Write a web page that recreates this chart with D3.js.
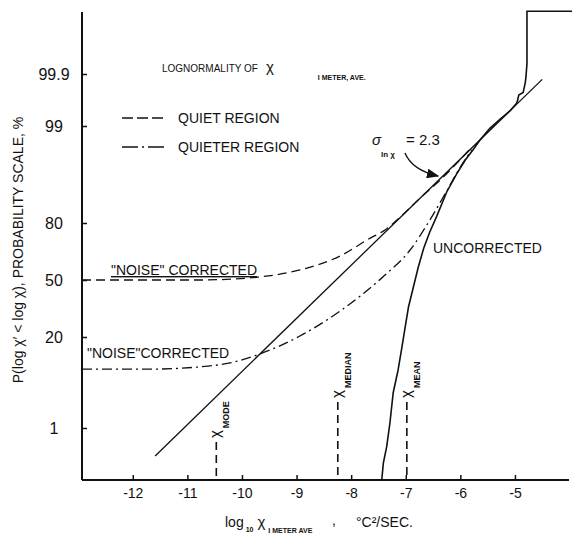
<!DOCTYPE html>
<html>
<head>
<meta charset="utf-8">
<script src="https://cdn.jsdelivr.net/npm/d3@7"></script>
<style>
body { margin: 0; background: #fff; }
svg { display: block; font-family: "Liberation Sans", Arial, sans-serif; }
text { fill: #111; }
</style>
</head>
<body>
<svg width="572" height="535"></svg>
<script>
// values: x = log10 chi, y = cumulative probability in %
var xTicks = [-12, -11, -10, -9, -8, -7, -6, -5];
var yTicks = [1, 20, 50, 80, 99, 99.9];

// lognormal fit (sigma ln chi = 2.3)
var fitX = [-11.59, -4.50];
var fitP = [0.27, 99.87];

// "noise" corrected, quiet region
var quietX = [-12.93, -11.68, -10.77, -10.16, -9.67, -8.94, -8.20, -7.65, -7.38, -7.10, -6.74, -6.37, -5.82];
var quietP = [50, 50, 50, 50.6, 51.8, 55.9, 63.9, 73.2, 77.0, 82.5, 88.9, 93.3, 97.6];

// "noise" corrected, quieter region
var quieterX = [-12.93, -11.68, -10.77, -10.22, -9.67, -8.94, -8.20, -7.42, -6.92, -6.56, -6.24, -6.01, -5.79];
var quieterP = [8.6, 8.6, 9.2, 10.3, 13.2, 20.4, 32.4, 51.8, 67.1, 81.2, 91.1, 95.4, 97.5];

// uncorrected
var uncorrX = [-7.44, -7.41, -7.35, -7.29, -7.23, -7.14, -7.07, -7.01, -6.95, -6.86, -6.77, -6.67, -6.56, -6.43,
               -6.25, -6.07, -5.91, -5.77, -5.64, -5.46, -5.27, -5.09, -4.97, -4.95, -4.93, -4.85, -4.81, -4.80,
               -4.78, -4.78, -3.95];
var uncorrP = [0.075, 0.19, 0.42, 1.24, 4.0, 8.4, 15.7, 24.4, 34.5, 45.9, 57.6, 68.2, 76.1, 82.9,
               90.6, 94.4, 96.45, 97.5, 98.26, 98.90, 99.24, 99.46, 99.61, 99.66, 99.73, 99.76, 99.85, 99.88,
               99.94, 99.997, 99.997];

// mode, median, mean markers
var statNames = ["MODE", "MEDIAN", "MEAN"];
var statX = [-10.47, -8.245, -6.98];
var statTopP = [0.53, 2.86, 2.86];

// inverse normal cdf (Acklam)
function probit(p) {
    var a = [-3.969683028665376e+01, 2.209460984245205e+02, -2.759285104469687e+02, 1.383577518672690e+02, -3.066479806614716e+01, 2.506628277459239e+00];
    var b = [-5.447609879822406e+01, 1.615858368580409e+02, -1.556989798598866e+02, 6.680131188771972e+01, -1.328068155288572e+01];
    var c = [-7.784894002430293e-03, -3.223964580411365e-01, -2.400758277161838e+00, -2.549732539343734e+00, 4.374664141464968e+00, 2.938163982698783e+00];
    var d = [7.784695709041462e-03, 3.224671290700398e-01, 2.445134137142996e+00, 3.754408661907416e+00];
    var pl = 0.02425, q, r;
    if (p < pl) {
        q = Math.sqrt(-2 * Math.log(p));
        return (((((c[0]*q+c[1])*q+c[2])*q+c[3])*q+c[4])*q+c[5]) / ((((d[0]*q+d[1])*q+d[2])*q+d[3])*q+1);
    } else if (p <= 1 - pl) {
        q = p - 0.5; r = q * q;
        return (((((a[0]*r+a[1])*r+a[2])*r+a[3])*r+a[4])*r+a[5])*q / (((((b[0]*r+b[1])*r+b[2])*r+b[3])*r+b[4])*r+1);
    } else {
        q = Math.sqrt(-2 * Math.log(1 - p));
        return -(((((c[0]*q+c[1])*q+c[2])*q+c[3])*q+c[4])*q+c[5]) / ((((d[0]*q+d[1])*q+d[2])*q+d[3])*q+1);
    }
}

var svg = d3.select("svg");
var margin = {left: 82, top: 11};
var width = 487, height = 469;
var ink = "#111";

var xs = d3.scaleLinear().domain([-12.93, -4.01]).range([0, width]);
// probability paper: the printed grid is not quite even, so map the tick deviates piecewise
var ys = d3.scaleLinear()
    .domain(yTicks.map(function(p) { return probit(p / 100); }))
    .range([417, 326, 269, 212, 115, 63]);
function yp(p) { return ys(probit(p / 100)); }

var g = svg.append("g")
    .attr("transform", "translate(" + margin.left + "," + margin.top + ")");

// axes
var xAxis = d3.axisBottom(xs).tickValues(xTicks).tickSize(-5).tickSizeOuter(0).tickPadding(8)
    .tickFormat(function(d) { return String(d).replace("\u2212", "-"); });
var gx = g.append("g").attr("transform", "translate(0," + height + ")").call(xAxis);
gx.select(".domain").remove();
gx.selectAll("line").attr("stroke", ink).attr("stroke-width", 1.5);
gx.selectAll("text").attr("font-size", 14).attr("fill", ink);

var yAxis = d3.axisLeft(ys)
    .tickValues(yTicks.map(function(p) { return probit(p / 100); }))
    .tickFormat(function(d, i) { return yTicks[i]; })
    .tickSize(-5).tickSizeOuter(0);
var gy = g.append("g").call(yAxis);
gy.select(".domain").remove();
gy.selectAll("line").attr("stroke", ink).attr("stroke-width", 1.5);
gy.selectAll("text").attr("font-size", 16).attr("fill", ink)
    .attr("text-anchor", "middle").attr("x", -28);

g.append("line").attr("x1", 0).attr("x2", 0).attr("y1", 1).attr("y2", height)
    .attr("stroke", ink).attr("stroke-width", 2);
g.append("line").attr("x1", 0).attr("x2", width).attr("y1", height).attr("y2", height)
    .attr("stroke", ink).attr("stroke-width", 2);

var line = d3.line()
    .x(function(d) { return xs(d[0]); })
    .y(function(d) { return yp(d[1]); });

g.append("path").datum(d3.zip(fitX, fitP)).attr("d", line)
    .attr("fill", "none").attr("stroke", ink).attr("stroke-width", 1.3);
g.append("path").datum(d3.zip(quietX, quietP)).attr("d", line.curve(d3.curveMonotoneX))
    .attr("fill", "none").attr("stroke", ink).attr("stroke-width", 1.3).attr("stroke-dasharray", "9,5");
g.append("path").datum(d3.zip(quieterX, quieterP)).attr("d", line.curve(d3.curveMonotoneX))
    .attr("fill", "none").attr("stroke", ink).attr("stroke-width", 1.3).attr("stroke-dasharray", "10,4,2,4");
g.append("path").datum(d3.zip(uncorrX, uncorrP)).attr("d", line.curve(d3.curveLinear))
    .attr("fill", "none").attr("stroke", ink).attr("stroke-width", 1.6);

// mode / median / mean
var stats = d3.zip(statNames, statX, statTopP);
g.selectAll(".stat").data(stats).enter().append("line")
    .attr("class", "stat")
    .attr("x1", function(d) { return xs(d[1]); })
    .attr("x2", function(d) { return xs(d[1]); })
    .attr("y1", function(d) { return yp(d[2]); })
    .attr("y2", height)
    .attr("stroke", ink).attr("stroke-width", 1.6).attr("stroke-dasharray", "8,5");
var st = g.selectAll(".statlab").data(stats).enter().append("text")
    .attr("class", "statlab")
    .attr("transform", function(d) {
        return "translate(" + (xs(d[1]) + 4) + "," + (yp(d[2]) - 4) + ") rotate(-90)";
    });
st.append("tspan").attr("font-size", 15).text("\u03c7");
st.append("tspan").attr("font-size", 9).attr("font-weight", "bold").attr("dx", 2).attr("dy", 9)
    .text(function(d) { return d[0]; });

// title and legend
var title = svg.append("text").attr("x", 162).attr("y", 72).attr("font-size", 10);
title.append("tspan").text("LOGNORMALITY OF");
title.append("tspan").attr("font-size", 15).attr("dx", 8).text("\u03c7");
title.append("tspan").attr("font-size", 7).attr("font-weight", "bold").attr("dx", 44).attr("dy", 8).text("I METER, AVE.");

svg.append("line").attr("x1", 122).attr("x2", 164).attr("y1", 118).attr("y2", 118)
    .attr("stroke", ink).attr("stroke-width", 1.3).attr("stroke-dasharray", "11,4");
svg.append("text").attr("x", 178).attr("y", 123).attr("font-size", 14).text("QUIET REGION");
svg.append("line").attr("x1", 122).attr("x2", 164).attr("y1", 147).attr("y2", 147)
    .attr("stroke", ink).attr("stroke-width", 1.3).attr("stroke-dasharray", "16,4,2,4");
svg.append("text").attr("x", 178).attr("y", 152).attr("font-size", 14).text("QUIETER REGION");

// curve labels
svg.append("text").attr("x", 111).attr("y", 275).attr("font-size", 14)
    .attr("text-decoration", "underline").text("\"NOISE\" CORRECTED");
svg.append("text").attr("x", 87).attr("y", 358).attr("font-size", 14).text("\"NOISE\"CORRECTED");
svg.append("text").attr("x", 433).attr("y", 253).attr("font-size", 14).text("UNCORRECTED");

// sigma annotation with arrow
svg.append("defs").append("marker")
    .attr("id", "head").attr("viewBox", "0 0 10 8").attr("refX", 9).attr("refY", 4)
    .attr("markerWidth", 9).attr("markerHeight", 7).attr("orient", "auto")
    .append("path").attr("d", "M0,0L10,4L0,8Z").attr("fill", ink);
svg.append("text").attr("x", 372).attr("y", 145).attr("font-size", 15).attr("font-style", "italic").text("\u03c3");
svg.append("text").attr("x", 381).attr("y", 157).attr("font-size", 8).attr("font-weight", "bold").text("ln \u03c7");
svg.append("text").attr("x", 406).attr("y", 145).attr("font-size", 15).text("= 2.3");
svg.append("path").attr("d", "M405,153 Q412,170 438,176")
    .attr("fill", "none").attr("stroke", ink).attr("stroke-width", 1.4).attr("marker-end", "url(#head)");

// axis titles
svg.append("text")
    .attr("transform", "translate(23,250) rotate(-90)")
    .attr("text-anchor", "middle").attr("font-size", 14)
    .text("P(log \u03c7\u2032 < log \u03c7), PROBABILITY SCALE, %");

var xt = svg.append("text").attr("x", 225).attr("y", 527).attr("font-size", 14);
xt.append("tspan").text("log");
xt.append("tspan").attr("font-size", 7).attr("font-weight", "bold").attr("dx", 2).attr("dy", 5).text("10");
xt.append("tspan").attr("font-size", 15).attr("dx", 4).attr("dy", -5).text("\u03c7");
xt.append("tspan").attr("font-size", 7).attr("font-weight", "bold").attr("dx", 3).attr("dy", 6).text("I METER AVE");
svg.append("text").attr("x", 332).attr("y", 525).attr("font-size", 14).text(",");
svg.append("text").attr("x", 356).attr("y", 527).attr("font-size", 14).text("\u00b0C\u00b2/SEC.");
</script>
</body>
</html>
